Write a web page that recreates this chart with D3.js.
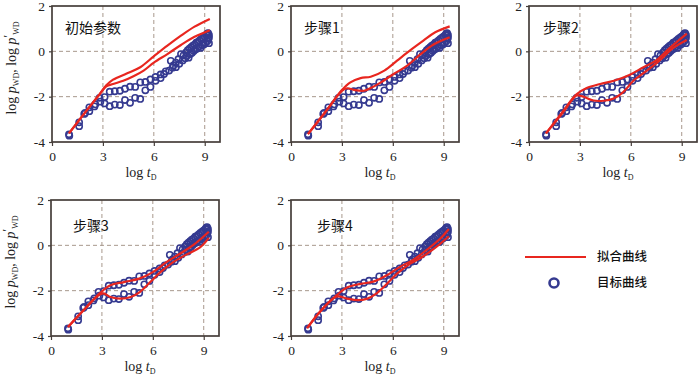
<!DOCTYPE html>
<html><head><meta charset="utf-8">
<script src="https://cdn.jsdelivr.net/npm/d3@7/dist/d3.min.js"></script>
<style>body{margin:0;background:#fff}svg{display:block}</style>
</head><body><svg id="c" width="700" height="379"></svg>
<script>
// ---------- data ----------
const panelTitles = ["初始参数", "步骤1", "步骤2", "步骤3", "步骤4"];
const xTicks = [0, 3, 6, 9];
const yTicks = [-4, -2, 0, 2];
const legendLabels = ["拟合曲线", "目标曲线"];

// target curve (measured): pressure branch and derivative branch, [log tD, value]
const targetPressure = [
  [1.0,-3.66],[1.6,-3.13],[1.9,-2.76],[2.2,-2.47],[2.5,-2.43],[2.8,-2.05],[3.1,-2.02],
  [3.4,-1.78],[3.7,-1.76],[4.0,-1.74],[4.3,-1.65],[4.6,-1.56],[4.9,-1.57],[5.2,-1.37],
  [5.5,-1.35],[5.8,-1.24],[6.1,-1.13],[6.4,-1.02],[6.7,-0.88],[7.0,-0.42],[7.15,-0.62],
  [7.3,-0.5],[7.45,-0.35],[7.6,-0.12],[7.75,-0.18],[7.9,-0.05],[8.0,0.05],[8.1,0.12],
  [8.2,0.18],[8.3,0.25],[8.4,0.3],[8.5,0.38],[8.6,0.42],[8.7,0.48],[8.8,0.55],[8.9,0.6],
  [9.0,0.66],[9.1,0.72],[9.15,0.78],[9.2,0.8],[9.25,0.72]
];
const targetDerivative = [
  [1.02,-3.72],[1.6,-3.3],[1.95,-2.72],[2.2,-2.64],[2.55,-2.34],[2.85,-2.22],[3.1,-2.3],
  [3.4,-2.42],[3.7,-2.35],[4.0,-2.37],[4.3,-2.15],[4.6,-2.27],[4.9,-2.05],[5.2,-2.1],
  [5.5,-1.72],[5.8,-1.57],[6.1,-1.3],[6.4,-1.18],[6.6,-1.0],[6.9,-0.85],[7.1,-0.72],
  [7.3,-0.7],[7.5,-0.55],[7.7,-0.4],[7.85,-0.3],[7.95,-0.2],[8.05,-0.28],[8.15,-0.12],
  [8.25,-0.06],[8.35,0.02],[8.45,0.08],[8.55,0.12],[8.65,0.2],[8.75,0.15],[8.85,0.28],
  [8.95,0.3],[9.05,0.38],[9.15,0.45],[9.2,0.55],[9.25,0.36],[9.25,0.6]
];

// fitted curves per panel: pressure (upper) and derivative (lower)
const fitInitP = [[1.0,-3.62],[2.0,-2.65],[2.8,-1.9],[3.2,-1.5],[3.6,-1.25],[4.4,-0.98],[5.2,-0.7],[6.0,-0.22],[6.8,0.25],[7.6,0.69],[8.4,1.09],[9.3,1.43]];
const fitInitD = [[1.0,-3.62],[2.0,-2.65],[2.8,-1.9],[3.2,-1.55],[3.6,-1.44],[4.2,-1.3],[4.8,-1.1],[5.4,-0.85],[6.0,-0.5],[6.8,-0.12],[7.6,0.28],[8.4,0.64],[9.3,0.93]];
const fitStep1P = [[1.0,-3.65],[2.0,-2.7],[3.0,-1.71],[3.5,-1.37],[4.1,-1.18],[4.7,-1.12],[5.5,-0.85],[6.25,-0.41],[7.0,0.03],[7.8,0.47],[8.5,0.84],[9.35,1.1]];
const fitStep1D = [[1.0,-3.65],[2.0,-2.7],[3.0,-1.75],[3.3,-1.63],[3.7,-1.7],[4.3,-1.74],[4.7,-1.62],[5.3,-1.37],[6.05,-1.0],[6.85,-0.63],[7.6,-0.15],[8.4,0.3],[9.35,0.62]];
const fitStep2P = [[1.0,-3.62],[2.0,-2.65],[2.8,-1.9],[3.4,-1.62],[4.2,-1.44],[5.0,-1.3],[5.95,-1.03],[6.75,-0.7],[7.5,-0.4],[8.3,0.15],[9.3,0.78]];
const fitStep2D = [[1.0,-3.62],[2.0,-2.7],[2.8,-1.95],[3.2,-2.0],[3.8,-2.17],[4.4,-2.18],[5.0,-2.08],[5.55,-1.8],[6.15,-1.3],[6.95,-0.85],[7.7,-0.4],[8.5,0.15],[9.3,0.5]];
const fitStep3P = [[1.0,-3.6],[2.0,-2.8],[2.9,-2.1],[3.5,-1.76],[4.3,-1.62],[5.2,-1.47],[6.0,-1.18],[6.8,-0.74],[7.6,-0.37],[8.4,0.02],[9.3,0.6]];
const fitStep3D = [[1.0,-3.6],[2.0,-2.8],[2.8,-2.2],[3.1,-2.12],[3.5,-2.28],[4.1,-2.35],[4.7,-2.28],[5.25,-2.05],[5.85,-1.62],[6.45,-1.18],[7.2,-0.74],[8.0,-0.4],[8.8,-0.08],[9.3,0.33]];
const fitStep4P = [[0.95,-3.65],[1.8,-2.85],[2.7,-2.2],[3.3,-1.86],[4.1,-1.7],[4.85,-1.6],[5.65,-1.32],[6.4,-0.96],[7.2,-0.64],[8.0,-0.2],[8.8,0.3],[9.3,0.72]];
const fitStep4D = [[0.95,-3.65],[1.8,-2.85],[2.7,-2.26],[3.3,-2.35],[3.9,-2.42],[4.5,-2.35],[5.05,-2.12],[5.65,-1.7],[6.25,-1.25],[7.0,-0.82],[7.8,-0.48],[8.6,-0.05],[9.3,0.4]];

const fitPressure = [fitInitP, fitStep1P, fitStep2P, fitStep3P, fitStep4P];
const fitDerivative = [fitInitD, fitStep1D, fitStep2D, fitStep3D, fitStep4D];

// ---------- layout ----------
const W = 168, H = 136;
const layout = [
  {x:52, y:6, tx:13, ty:27, ylab:true},
  {x:291, y:6, tx:13, ty:27},
  {x:529, y:6, tx:14, ty:27},
  {x:51, y:200, tx:22, ty:31, ylab:true},
  {x:291, y:200, tx:26, ty:31}
];
const RED = "#e8261f", BLUE = "#353a90", FRAME = "#463e3a", GRID = "#a8988c";
const numFont = "'Liberation Serif', 'Times New Roman', serif";
const cjkFont = "'Noto Sans CJK SC', sans-serif";

const svg = d3.select("#c");
const x = d3.scaleLinear().domain([0, 9.9]).range([0, W]);
const y = d3.scaleLinear().domain([-4, 2]).range([H, 0]);
const line = d3.line().x(d => x(d[0])).y(d => y(d[1])).curve(d3.curveCatmullRom.alpha(0.5));

panelTitles.forEach((title, i) => {
  const L = layout[i];
  const g = svg.append("g").attr("transform", `translate(${L.x},${L.y})`);
  const clipId = "clip" + i;
  g.append("clipPath").attr("id", clipId).append("rect").attr("width", W).attr("height", H);

  // grid
  g.append("g").selectAll("line").data([3, 6, 9]).join("line")
    .attr("x1", d => x(d)).attr("x2", d => x(d)).attr("y1", 0).attr("y2", H)
    .attr("stroke", GRID).attr("stroke-width", 1).attr("stroke-dasharray", "4,3");
  g.append("g").selectAll("line").data([-2, 0]).join("line")
    .attr("y1", d => y(d)).attr("y2", d => y(d)).attr("x1", 0).attr("x2", W)
    .attr("stroke", GRID).attr("stroke-width", 1).attr("stroke-dasharray", "4,3");

  // axes
  const xa = g.append("g").attr("transform", `translate(0,${H})`)
    .call(d3.axisBottom(x).tickValues(xTicks).tickSize(4).tickSizeOuter(0).tickPadding(5));
  const ya = g.append("g")
    .call(d3.axisLeft(y).tickValues(yTicks).tickSize(3).tickSizeOuter(0).tickPadding(4)
      .tickFormat(d => String(d)));
  [xa, ya].forEach(a => {
    a.select(".domain").remove();
    a.selectAll("line").attr("stroke", FRAME).attr("stroke-width", 1.2);
    a.selectAll("text").attr("fill", "#222").style("font-family", numFont).style("font-size", "13.5px");
  });

  // frame
  g.append("rect").attr("width", W).attr("height", H).attr("fill", "none")
    .attr("stroke", FRAME).attr("stroke-width", 1.7);

  const plot = g.append("g").attr("clip-path", `url(#${clipId})`);
  // target circles
  plot.append("g").selectAll("circle").data(targetPressure.concat(targetDerivative)).join("circle")
    .attr("cx", d => x(d[0])).attr("cy", d => y(d[1])).attr("r", 3.1)
    .attr("fill", "none").attr("stroke", BLUE).attr("stroke-width", 1.6);
  // fitted curves
  [fitPressure[i], fitDerivative[i]].forEach(c => {
    plot.append("path").datum(c).attr("d", line).attr("fill", "none")
      .attr("stroke", RED).attr("stroke-width", 2.2);
  });

  // title
  g.append("text").attr("x", L.tx).attr("y", L.ty).text(title)
    .style("font-family", cjkFont).style("font-size", "14px").attr("fill", "#111");

  // x label
  const xl = g.append("text").attr("x", W / 2 + 5).attr("y", H + 35).attr("text-anchor", "middle")
    .style("font-family", numFont).style("font-size", "14px").attr("fill", "#222");
  xl.append("tspan").text("log ");
  xl.append("tspan").text("t").style("font-style", "italic");
  xl.append("tspan").text("D").style("font-size", "8px").attr("dy", 3);

  if (L.ylab) {
    const yl = svg.append("text")
      .attr("transform", `translate(${L.x - 36},${L.y + 62}) rotate(-90)`)
      .attr("text-anchor", "middle")
      .style("font-family", numFont).style("font-size", "14px").attr("fill", "#222");
    yl.append("tspan").text("log ");
    yl.append("tspan").text("p").style("font-style", "italic");
    yl.append("tspan").text("WD").style("font-size", "8px").attr("dy", 3);
    yl.append("tspan").text(",  log ").attr("dy", -3);
    yl.append("tspan").text("p").style("font-style", "italic");
    yl.append("tspan").text("′").attr("dy", -4).style("font-size", "12px");
    yl.append("tspan").text("WD").style("font-size", "8px").attr("dy", 7);
  }
});

// legend
const lg = svg.append("g");
lg.append("line").attr("x1", 525).attr("x2", 586).attr("y1", 257).attr("y2", 257)
  .attr("stroke", RED).attr("stroke-width", 2.2);
lg.append("circle").attr("cx", 554).attr("cy", 283).attr("r", 4.5)
  .attr("fill", "none").attr("stroke", BLUE).attr("stroke-width", 2.6);
legendLabels.forEach((t, k) => {
  lg.append("text").attr("x", 597).attr("y", 257 + 26 * k).attr("dy", "0.35em").text(t)
    .style("font-family", cjkFont).style("font-size", "12.5px").style("font-weight", "500").attr("fill", "#111");
});
</script>
</body></html>
